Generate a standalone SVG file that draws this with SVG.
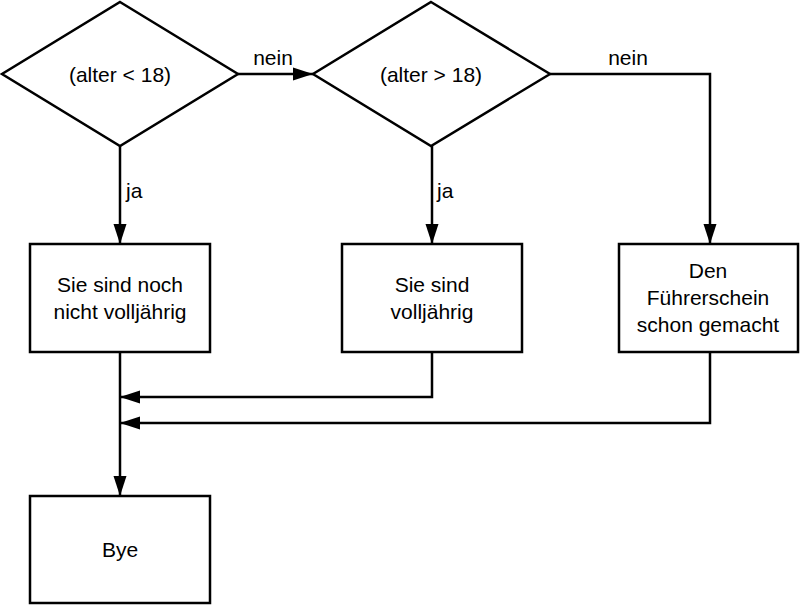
<svg xmlns="http://www.w3.org/2000/svg" width="800" height="605" viewBox="0 0 800 605">
<defs>
<marker id="arr" markerUnits="userSpaceOnUse" markerWidth="22" markerHeight="14" refX="20" refY="7" orient="auto" viewBox="0 0 22 14">
<path d="M0,0.5 L20,7 L0,13.5 z" fill="#000"/>
</marker>
<style>
.s{fill:#fff;stroke:#000;stroke-width:2.5}
.c{fill:none;stroke:#000;stroke-width:2.5;marker-end:url(#arr)}
.l{fill:none;stroke:#000;stroke-width:2.5}
text{font-family:"Liberation Sans",Arial,sans-serif;font-size:21px;fill:#000}
.m{text-anchor:middle}
</style>
</defs>
<rect width="800" height="605" fill="#fff"/>
<g id="connectors">
<line class="c" x1="238" y1="74" x2="313" y2="74"/>
<text class="m" x="273" y="65">nein</text>
<polyline class="c" points="550,74 710,74 710,244"/>
<text class="m" x="628" y="65">nein</text>
<line class="c" x1="120" y1="146" x2="120" y2="244"/>
<text x="126" y="198">ja</text>
<line class="c" x1="432" y1="146" x2="432" y2="244"/>
<text x="437" y="198">ja</text>
<line class="c" x1="120" y1="352" x2="120" y2="496"/>
<polyline class="c" points="432,352 432,397 120,397"/>
<polyline class="c" points="710,352 710,423 120,423"/>
</g>
<g id="d1">
<polygon class="s" points="120,2 238,74 120,146 2,74"/>
<text class="m" x="120" y="82">(alter &lt; 18)</text>
</g>
<g id="d2">
<polygon class="s" points="431,2 550,74 431,146 313,74"/>
<text class="m" x="431" y="82">(alter &gt; 18)</text>
</g>
<g id="b1">
<rect class="s" x="30" y="244" width="180" height="108"/>
<text class="m" x="120" y="292">Sie sind noch</text>
<text class="m" x="120" y="319">nicht volljährig</text>
</g>
<g id="b2">
<rect class="s" x="342" y="244" width="180" height="108"/>
<text class="m" x="432" y="292">Sie sind</text>
<text class="m" x="432" y="319">volljährig</text>
</g>
<g id="b3">
<rect class="s" x="619" y="244" width="179" height="108"/>
<text class="m" x="708" y="278">Den</text>
<text class="m" x="708" y="305">Führerschein</text>
<text class="m" x="708" y="332">schon gemacht</text>
</g>
<g id="bye">
<rect class="s" x="30" y="496" width="180" height="107"/>
<text class="m" x="120" y="557">Bye</text>
</g>
</svg>
